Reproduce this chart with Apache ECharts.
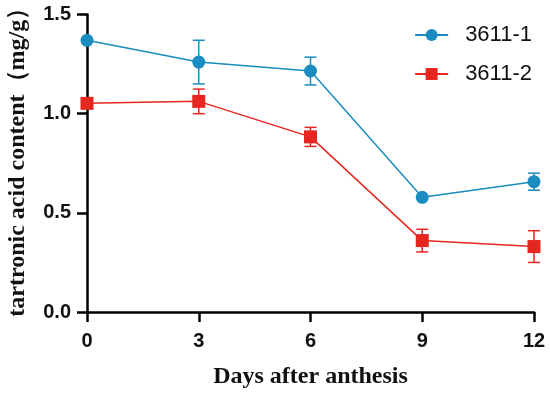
<!DOCTYPE html>
<html><head><meta charset="utf-8">
<script src="https://cdn.jsdelivr.net/npm/echarts@6/dist/echarts.min.js"></script>
<style>html,body{margin:0;padding:0;background:#fff}#c{width:550px;height:393px}</style>
</head><body><div id="c"></div>
<script>
var days = [0, 3, 6, 9, 12];
var s1Name = '3611-1';
var s1Mean = [1.37, 1.26, 1.215, 0.578, 0.657];
var s1Err = [0.0, 0.11, 0.07, 0.0, 0.043];
var s2Name = '3611-2';
var s2Mean = [1.052, 1.062, 0.883, 0.36, 0.33];
var s2Err = [0.0, 0.062, 0.048, 0.057, 0.08];
var xTicks = ['0', '3', '6', '9', '12'];

var blue = '#1a8cbf', red = '#e62720';
function errData(mean, err) {
  return days.map(function (d, i) { return [d, mean[i] - err[i], mean[i] + err[i]]; });
}
function errSeries(mean, err, color) {
  return {
    type: 'custom', silent: true, z: 1,
    data: errData(mean, err),
    renderItem: function (params, api) {
      var x = api.value(0);
      var lo = api.coord([x, api.value(1)]);
      var hi = api.coord([x, api.value(2)]);
      if (Math.abs(hi[1] - lo[1]) < 1) return null;
      var w = 6;
      var st = { stroke: color, lineWidth: 1.5 };
      return { type: 'group', children: [
        { type: 'line', shape: { x1: lo[0], y1: lo[1], x2: hi[0], y2: hi[1] }, style: st },
        { type: 'line', shape: { x1: lo[0] - w, y1: lo[1], x2: lo[0] + w, y2: lo[1] }, style: st },
        { type: 'line', shape: { x1: hi[0] - w, y1: hi[1], x2: hi[0] + w, y2: hi[1] }, style: st }
      ]};
    }
  };
}
var chart = echarts.init(document.getElementById('c'), null, { renderer: 'canvas' });
chart.setOption({
  animation: false,
  grid: { left: 87, right: 16, top: 14.5, bottom: 81, outerBoundsMode: 'none', containLabel: false },
  legend: {
    right: 13, top: 19, orient: 'vertical', itemGap: 17,
    itemWidth: 33, itemHeight: 15,
    textStyle: { fontFamily: 'Arial, Liberation Sans', fontSize: 22, color: '#111', padding: [0, 0, 0, 12] },
    data: [s1Name, s2Name]
  },
  xAxis: {
    type: 'value', min: 0, max: 12, interval: 3,
    name: 'Days after anthesis', nameLocation: 'middle', nameGap: 53,
    nameTextStyle: { fontFamily: 'Times New Roman, Liberation Serif', fontWeight: 'bold', fontSize: 24, color: '#111' },
    axisLine: { onZero: false, lineStyle: { color: '#000', width: 2.5 } },
    axisTick: { length: 10, lineStyle: { color: '#000', width: 2.5 } },
    axisLabel: { margin: 19, fontFamily: 'Arial, Liberation Sans', fontWeight: 'bold', fontSize: 20, color: '#111',
      formatter: function (v) { return xTicks[days.indexOf(v)]; } },
    splitLine: { show: false }
  },
  yAxis: {
    type: 'value', min: 0, max: 1.5, interval: 0.5,
    name: 'tartronic acid content（mg/g）', nameLocation: 'middle', nameGap: 57,
    nameTextStyle: { fontFamily: 'Times New Roman, Liberation Serif', fontWeight: 'bold', fontSize: 24, color: '#111', padding: [0, 0, 0, 14] },
    axisLine: { show: true, lineStyle: { color: '#000', width: 2.5 } },
    axisTick: { show: true, length: 10, lineStyle: { color: '#000', width: 2.5 } },
    axisLabel: { margin: 16, fontFamily: 'Arial, Liberation Sans', fontWeight: 'bold', fontSize: 20, color: '#111',
      formatter: function (v) { return v.toFixed(1); } },
    splitLine: { show: false }
  },
  series: [
    errSeries(s1Mean, s1Err, blue),
    errSeries(s2Mean, s2Err, red),
    { name: s1Name, type: 'line', data: days.map(function (d, i) { return [d, s1Mean[i]]; }),
      symbol: 'circle', symbolSize: 13, z: 3,
      lineStyle: { color: blue, width: 1.5 }, itemStyle: { color: blue } },
    { name: s2Name, type: 'line', data: days.map(function (d, i) { return [d, s2Mean[i]]; }),
      symbol: 'rect', symbolSize: 13, z: 3,
      lineStyle: { color: red, width: 1.5 }, itemStyle: { color: red } }
  ]
});
</script></body></html>
